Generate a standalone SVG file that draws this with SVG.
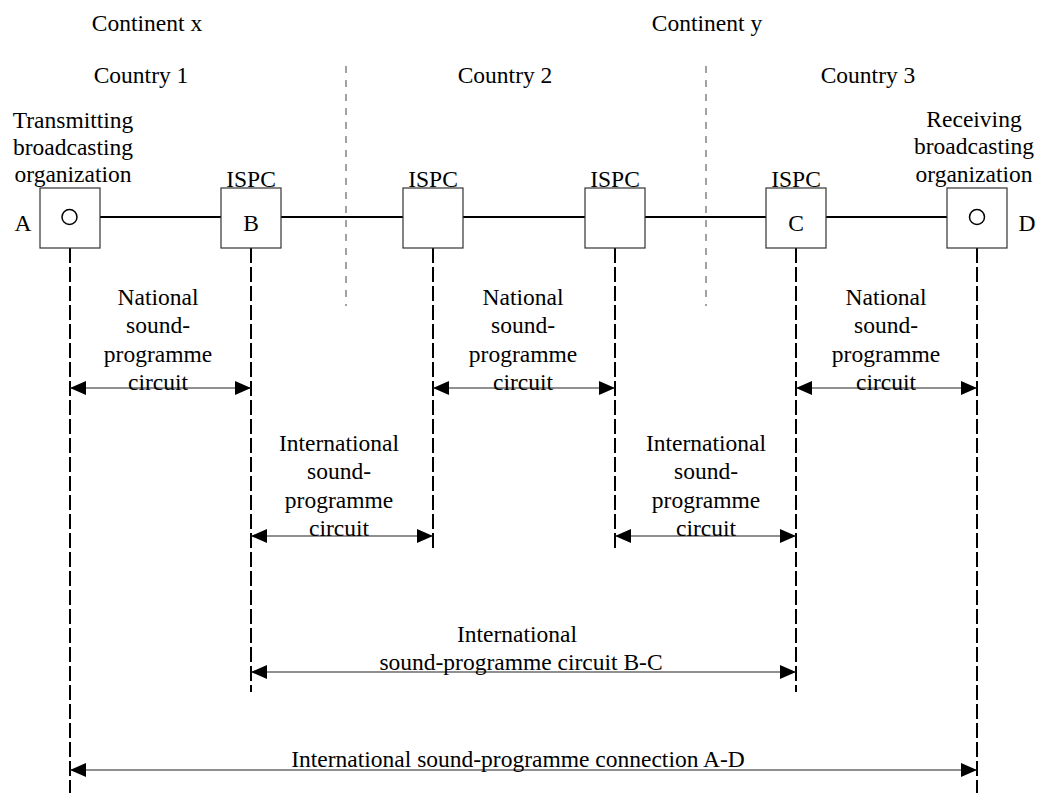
<svg xmlns="http://www.w3.org/2000/svg" width="1039" height="793" viewBox="0 0 1039 793">
<defs>
<style>
text{font-family:"Liberation Serif","Times New Roman",serif;font-size:23.5px;fill:#000}
.c{text-anchor:middle}
.box{fill:#fff;stroke:#333;stroke-width:1.2}
.link{stroke:#000;stroke-width:2;fill:none}
.vd{stroke:#000;stroke-width:2;stroke-dasharray:15 4;fill:none}
.div{stroke:#444;stroke-width:1;stroke-dasharray:7 7;fill:none}
.arr{stroke:#222;stroke-width:1.2;fill:none;marker-start:url(#ah);marker-end:url(#ah)}
</style>
<marker id="ah" viewBox="0 0 16 14" refX="16" refY="7" markerWidth="16" markerHeight="14" markerUnits="userSpaceOnUse" orient="auto-start-reverse">
<path d="M0,0 L16,7 L0,14 Z" fill="#000"/>
</marker>
</defs>
<rect width="1039" height="793" fill="#fff"/>
<g id="headers">
<text class="c" x="147" y="31">Continent x</text>
<text class="c" x="707" y="31">Continent y</text>
<text class="c" x="141" y="83">Country 1</text>
<text class="c" x="505" y="83">Country 2</text>
<text class="c" x="868" y="83">Country 3</text>
</g>
<g id="connectors">
<line class="div" x1="346" y1="66" x2="346" y2="306"/>
<line class="div" x1="706" y1="66" x2="706" y2="306"/>
<line class="link" x1="77" y1="217" x2="221" y2="217"/>
<line class="link" x1="281" y1="217" x2="403" y2="217"/>
<line class="link" x1="463" y1="217" x2="585" y2="217"/>
<line class="link" x1="645" y1="217" x2="766" y2="217"/>
<line class="link" x1="826" y1="217" x2="969" y2="217"/>
<line class="vd" x1="70" y1="248" x2="70" y2="793"/>
<line class="vd" x1="251" y1="248" x2="251" y2="692"/>
<line class="vd" x1="433" y1="248" x2="433" y2="552"/>
<line class="vd" x1="615" y1="248" x2="615" y2="552"/>
<line class="vd" x1="796" y1="248" x2="796" y2="692"/>
<line class="vd" x1="977" y1="248" x2="977" y2="793"/>
<line class="arr" x1="70" y1="388" x2="251" y2="388"/>
<line class="arr" x1="433" y1="388" x2="615" y2="388"/>
<line class="arr" x1="796" y1="388" x2="977" y2="388"/>
<line class="arr" x1="251" y1="536" x2="433" y2="536"/>
<line class="arr" x1="615" y1="536" x2="796" y2="536"/>
<line class="arr" x1="251" y1="672" x2="796" y2="672"/>
<line class="arr" x1="70" y1="770" x2="977" y2="770"/>
</g>
<g id="nodeA">
<text class="c" x="73" y="128">Transmitting</text>
<text class="c" x="73" y="155">broadcasting</text>
<text class="c" x="73" y="182">organization</text>
<rect class="box" x="40" y="188" width="60" height="60"/>
<circle cx="69.5" cy="217" r="7.5" fill="#fff" stroke="#000" stroke-width="1.5"/>
<text class="c" x="23" y="231">A</text>
</g>
<g id="nodeB">
<text class="c" x="251" y="187">ISPC</text>
<rect class="box" x="221" y="188" width="60" height="60"/>
<text class="c" x="251" y="231">B</text>
</g>
<g id="node2">
<text class="c" x="433" y="187">ISPC</text>
<rect class="box" x="403" y="188" width="60" height="60"/>
</g>
<g id="node3">
<text class="c" x="615" y="187">ISPC</text>
<rect class="box" x="585" y="188" width="60" height="60"/>
</g>
<g id="nodeC">
<text class="c" x="796" y="187">ISPC</text>
<rect class="box" x="766" y="188" width="60" height="60"/>
<text class="c" x="796" y="231">C</text>
</g>
<g id="nodeD">
<text class="c" x="974" y="127">Receiving</text>
<text class="c" x="974" y="154">broadcasting</text>
<text class="c" x="974" y="182">organization</text>
<rect class="box" x="947" y="188" width="60" height="60"/>
<circle cx="977" cy="217" r="7.5" fill="#fff" stroke="#000" stroke-width="1.5"/>
<text class="c" x="1027" y="231">D</text>
</g>
<g id="labels">
<text class="c" x="158" y="305">National</text>
<text class="c" x="158" y="333">sound-</text>
<text class="c" x="158" y="362">programme</text>
<text class="c" x="158" y="390">circuit</text>
<text class="c" x="523" y="305">National</text>
<text class="c" x="523" y="333">sound-</text>
<text class="c" x="523" y="362">programme</text>
<text class="c" x="523" y="390">circuit</text>
<text class="c" x="886" y="305">National</text>
<text class="c" x="886" y="333">sound-</text>
<text class="c" x="886" y="362">programme</text>
<text class="c" x="886" y="390">circuit</text>
<text class="c" x="339" y="451">International</text>
<text class="c" x="339" y="479">sound-</text>
<text class="c" x="339" y="508">programme</text>
<text class="c" x="339" y="536">circuit</text>
<text class="c" x="706" y="451">International</text>
<text class="c" x="706" y="479">sound-</text>
<text class="c" x="706" y="508">programme</text>
<text class="c" x="706" y="536">circuit</text>
<text class="c" x="517" y="642">International</text>
<text class="c" x="521" y="670">sound-programme circuit B-C</text>
<text class="c" x="518" y="767">International sound-programme connection A-D</text>
</g>
</svg>
